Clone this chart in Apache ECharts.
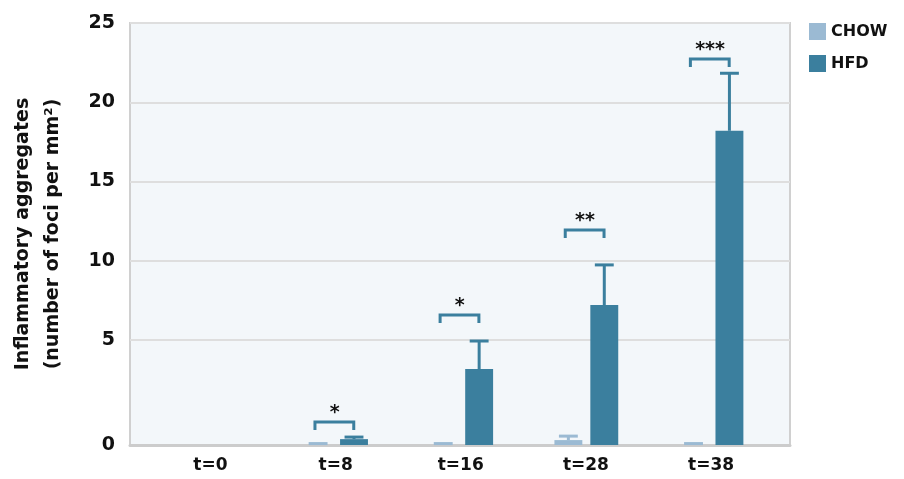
<!DOCTYPE html>
<html>
<head>
<meta charset="utf-8">
<script src="https://cdn.jsdelivr.net/npm/echarts@6/dist/echarts.min.js"></script>
<style>
  html, body { margin: 0; padding: 0; background: #fff; }
  #chart { width: 904px; height: 479px; }
</style>
</head>
<body>
<div id="chart"></div>
<script>
// values are read on the axis scale; bars start at the bottom of the axis
const categories = ['t=0', 't=8', 't=16', 't=28', 't=38'];
const chowMean = [null, -1.62, -1.62, -1.31, -1.62];
const chowSem = [null, 0.09, 0.09, 0.25, 0.09];
const hfdMean = [null, -1.25, 3.17, 7.21, 18.2];
const hfdSem = [null, 0.13, 1.77, 2.53, 3.63];
const sigLabels = [null, '*', '*', '**', '***'];
const sigLevel = [null, -0.17, 6.58, 11.94, 22.73];
const yMin = -1.62;
const yTickValues = [yMin, 5, 10, 15, 20, 25];
const yTickLabels = ['0', '5', '10', '15', '20', '25'];

const CHOW_COLOR = '#9bbad3';
const HFD_COLOR = '#3b7f9e';
const FONT = '"DejaVu Sans", sans-serif';

const chart = echarts.init(document.getElementById('chart'));

function toData(mean, sem) {
  return categories
    .map((c, i) => [i, mean[i], sem[i]])
    .filter(d => d[1] != null);
}

function barRenderer(offset, color) {
  return function (params, api) {
    const x = api.value(0);
    const mean = api.value(1);
    const sem = api.value(2);
    const band = api.size([1, 0])[0];
    const cx = api.coord([x, 0])[0] + offset * band;
    const top = api.coord([x, mean])[1];
    const base = api.coord([x, yMin])[1];
    const errTop = api.coord([x, mean + sem])[1];
    const bw = band * 0.223;
    const cw = band * 0.151;
    return {
      type: 'group',
      children: [
        { type: 'rect', shape: { x: cx - bw / 2, y: top, width: bw, height: base - top }, style: { fill: color } },
        { type: 'line', shape: { x1: cx, y1: top, x2: cx, y2: errTop }, style: { stroke: color, lineWidth: 3 } },
        { type: 'line', shape: { x1: cx - cw / 2, y1: errTop, x2: cx + cw / 2, y2: errTop }, style: { stroke: color, lineWidth: 3 } }
      ]
    };
  };
}

function bracketRenderer(params, api) {
  const i = api.value(0);
  const band = api.size([1, 0])[0];
  const c = api.coord([i, api.value(1)]);
  const l = c[0] - 0.165 * band;
  const r = c[0] + 0.145 * band;
  const y = c[1];
  return {
    type: 'group',
    children: [
      {
        type: 'polyline',
        shape: { points: [[l, y + 8], [l, y], [r, y], [r, y + 8]] },
        style: { stroke: HFD_COLOR, fill: null, lineWidth: 3 }
      },
      {
        type: 'text',
        style: {
          text: sigLabels[i], x: c[0] - 1, y: y - 9,
          align: 'center', verticalAlign: 'middle',
          font: 'bold 19px ' + FONT, fill: '#111'
        }
      }
    ]
  };
}

chart.setOption({
  animation: false,
  legend: {
    data: ['CHOW', 'HFD'],
    orient: 'vertical',
    left: 809,
    top: 23,
    padding: 0,
    icon: 'rect',
    itemWidth: 17,
    itemHeight: 17,
    itemGap: 15,
    textStyle: { fontFamily: FONT, fontWeight: 'bold', fontSize: 16, color: '#111' }
  },
  grid: {
    left: 128, right: 114, top: 23, bottom: 34,
    show: true,
    backgroundColor: '#f3f7fa',
    borderColor: '#d0d0d0',
    borderWidth: 2
  },
  xAxis: {
    type: 'value',
    min: -0.643,
    max: 4.631,
    axisLine: { show: true, onZero: false, lineStyle: { color: '#cccccc', width: 3 } },
    axisTick: { show: false },
    splitLine: { show: false },
    axisLabel: {
      customValues: [0, 1, 2, 3, 4],
      formatter: v => categories[Math.round(v)],
      margin: 12,
      fontFamily: FONT, fontWeight: 'bold', fontSize: 17, color: '#111'
    }
  },
  yAxis: {
    type: 'value',
    min: yMin,
    max: 25,
    name: 'Inflammatory aggregates\n(number of foci per mm²)',
    nameLocation: 'middle',
    nameGap: 62,
    nameTextStyle: { fontFamily: FONT, fontWeight: 'bold', fontSize: 19, color: '#111', lineHeight: 30 },
    axisLine: { show: false },
    axisTick: { show: false, customValues: yTickValues },
    splitLine: { show: true, lineStyle: { color: '#dedede', width: 2 } },
    axisLabel: {
      customValues: yTickValues,
      formatter: v => yTickLabels[yTickValues.indexOf(v)],
      margin: 15,
      fontFamily: FONT, fontWeight: 'bold', fontSize: 19, color: '#111'
    }
  },
  series: [
    {
      name: 'CHOW',
      type: 'custom',
      itemStyle: { color: CHOW_COLOR },
      renderItem: barRenderer(-0.14, CHOW_COLOR),
      data: toData(chowMean, chowSem)
    },
    {
      name: 'HFD',
      type: 'custom',
      itemStyle: { color: HFD_COLOR },
      renderItem: barRenderer(0.147, HFD_COLOR),
      data: toData(hfdMean, hfdSem)
    },
    {
      name: 'sig',
      type: 'custom',
      renderItem: bracketRenderer,
      data: categories.map((c, i) => [i, sigLevel[i]]).filter(d => d[1] != null)
    }
  ]
});
</script>
</body>
</html>
